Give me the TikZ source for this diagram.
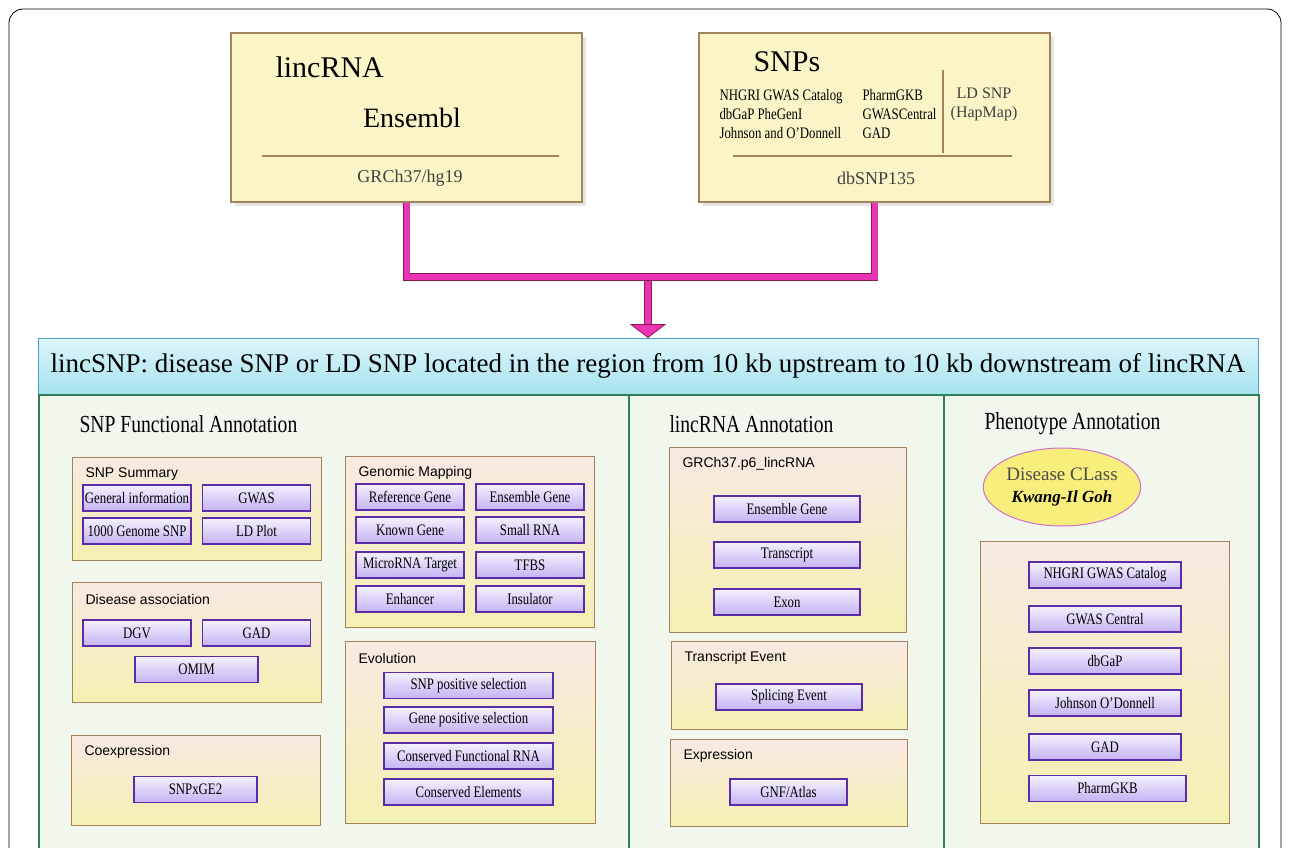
\documentclass[tikz,border=0pt]{standalone}
\usepackage{fontspec}
\setmainfont{Liberation Serif}
\setsansfont{Liberation Sans}
\newfontfamily\narrowserif{Liberation Serif}[FakeStretch=0.8]
\usepackage{tikz}
\usetikzlibrary{shapes.geometric,shadows,calc}
\usepackage{xcolor}
\definecolor{topfill}{HTML}{FBF4C6}
\definecolor{boxline}{HTML}{A3845A}
\definecolor{bantop}{HTML}{DDF6FB}
\definecolor{banbot}{HTML}{A6E2EF}
\definecolor{banline}{HTML}{4AA3C4}
\definecolor{panfill}{HTML}{F2F7EE}
\definecolor{panline}{HTML}{2F7F5A}
\definecolor{subtop}{HTML}{F8E9E2}
\definecolor{subbot}{HTML}{F4F0B2}
\definecolor{btntop}{HTML}{F5F1FD}
\definecolor{btnbot}{HTML}{C3B3F4}
\definecolor{btnline}{HTML}{5A2CA8}
\definecolor{pipefill}{HTML}{E934B6}
\definecolor{pipeline}{HTML}{8A1A4E}
\definecolor{ellfill}{HTML}{F8EE7C}
\definecolor{ellline}{HTML}{D070D0}
\newcommand{\btn}[5] {
    \node[btn,minimum width=#4] (#1) at (#2,#3) {#5};
}
\newcommand{\subbox}[6] {
    \node[subbox,anchor=north west,minimum width={#4-#2},minimum height={#5-#3}]
        (#1) at (#2,#3) {};
    \node[subtitle] (#1-title) at ([xshift=10pt,yshift=-17pt]#1.north west) {#6};
}
\newcommand{\panel}[4] {
    \node[panelbox,anchor=north west,minimum width={#3-#2},minimum height=480]
        (#1) at (#2,394) {};
    \node[paneltitle] (#1-title) at ([xshift=38pt,yshift=-30pt]#1.north west) {#4};
}

\begin{document}
\begin{tikzpicture}[
        x=1pt,y=-1pt,
        topbox/.style={draw=boxline,line width=1.3pt,fill=topfill,
            drop shadow={shadow xshift=4pt,shadow yshift=-4pt,opacity=0.2},
            minimum width=351,minimum height=169},
        banner/.style={draw=banline,line width=1pt,top color=bantop,bottom color=banbot,
            minimum width=1220,minimum height=56,font=\fontsize{27}{30}\selectfont},
        panelbox/.style={draw=panline,line width=1.5pt,fill=panfill},
        paneltitle/.style={anchor=west,font=\narrowserif\fontsize{24.5}{28}\selectfont},
        subbox/.style={draw=boxline,line width=1.3pt,top color=subtop,bottom color=subbot},
        subtitle/.style={anchor=west,font=\sffamily\fontsize{14}{16}\selectfont},
        btn/.style={draw=btnline,line width=1.6pt,top color=btntop,bottom color=btnbot,
            minimum height=26,inner sep=0pt,font=\narrowserif\fontsize{16}{18}\selectfont},
        listtext/.style={anchor=west,font=\narrowserif\fontsize{16}{19}\selectfont},
        pipe/.style={draw=pipeline,line width=0.8pt,double=pipefill,double distance=6pt},
    ]
    \useasboundingbox (0,0) rectangle (1290,848);
    \fill[white] (0,0) rectangle (1290,848);
    \draw[line width=0.8pt,rounded corners=14pt] (9,880) |- (1281,9) -- (1281,880);

    % sources
    \node[topbox] (lincbox) at (406.5,117.5) {};
    \node[anchor=west,font=\fontsize{30}{32}\selectfont] (lincname) at (272,67) {lincRNA};
    \node[font=\fontsize{28}{30}\selectfont] (ensembl) at (412,118) {Ensembl};
    \draw[boxline,line width=1.3pt] (262,156) -- (559,156);
    \node[text=black!75,font=\fontsize{18}{20}\selectfont] (hg19) at (410,178) {GRCh37/hg19};

    \node[topbox] (snpbox) at (874.5,117.5) {};
    \node[anchor=west,font=\fontsize{30}{32}\selectfont] (snpname) at (750,62) {SNPs};
    \node[listtext,align=left] (snplist) at (716,114)
        {NHGRI GWAS Catalog\\dbGaP PheGenI\\Johnson and O’Donnell};
    \node[listtext,align=left] (snplist2) at (859,114) {PharmGKB\\GWASCentral\\GAD};
    \draw[boxline,line width=1.3pt] (943,70) -- (943,153);
    \node[align=center,text=black!75,font=\fontsize{16}{19}\selectfont] (ldsnp) at (984,104)
        {LD SNP\\(HapMap)};
    \draw[boxline,line width=1.3pt] (733,156) -- (1012,156);
    \node[text=black!75,font=\fontsize{18}{20}\selectfont] (dbsnp) at (876,178) {dbSNP135};

    % merge arrow
    \node[banner] (banner) at (648,366)
        {lincSNP: disease SNP or LD SNP located in the region from 10 kb upstream to 10 kb downstream of lincRNA};
    \coordinate (bus) at (648,277);
    \draw[pipe] (bus) -- ($(banner.north)+(0,-12)$);
    \draw[pipe] (lincbox.south) |- (bus) -| (snpbox.south);
    \filldraw[fill=pipefill,draw=pipeline,line width=0.8pt]
        ($(banner.north)+(-17,-13)$) -- (banner.north) -- ($(banner.north)+(17,-13)$) -- cycle;

    % panels
    \panel{snpanno}{38}{628}{SNP Functional Annotation}
    \panel{lincanno}{628}{943}{lincRNA Annotation}
    \panel{phenoanno}{943}{1258}{Phenotype Annotation}

    % SNP functional annotation
    \subbox{summary}{72}{457}{321}{560}{SNP Summary}
    \btn{geninfo}{137}{498}{108}{General information}
    \btn{gwas}{256.5}{498}{108}{GWAS}
    \btn{kgenome}{137}{531}{108}{1000 Genome SNP}
    \btn{ldplot}{256.5}{531}{108}{LD Plot}

    \subbox{disease}{72}{582}{321}{702}{Disease association}
    \btn{dgv}{137}{633}{108}{DGV}
    \btn{gad}{256.5}{633}{108}{GAD}
    \btn{omim}{196.5}{669.5}{123}{OMIM}

    \subbox{coexpr}{71}{735}{320}{825}{Coexpression}
    \btn{snpxge}{195.5}{789.5}{123}{SNPxGE2}

    \subbox{mapping}{345}{456}{594}{627}{Genomic Mapping}
    \foreach \y/\a/\b [count=\i] in {497/Reference Gene/Ensemble Gene,
            530/Known Gene/Small RNA,565/MicroRNA Target/TFBS,599/Enhancer/Insulator} {
        \btn{mapa\i}{410}{\y}{108}{\a}
        \btn{mapb\i}{530}{\y}{108}{\b}
    }

    \subbox{evolution}{345}{641}{595}{823}{Evolution}
    \foreach \y/\t [count=\i] in {685.5/SNP positive selection,720/Gene positive selection,
            756/Conserved Functional RNA,792/Conserved Elements} {
        \btn{evo\i}{468.5}{\y}{169}{\t}
    }

    % lincRNA annotation
    \subbox{grc}{669}{447}{906}{632}{GRCh37.p6\_lincRNA}
    \foreach \y/\t [count=\i] in {509/Ensemble Gene,555/Transcript,602/Exon} {
        \btn{grc\i}{787}{\y}{146}{\t}
    }

    \subbox{tevent}{671}{641}{907}{729}{Transcript Event}
    \btn{splicing}{789}{697}{146}{Splicing Event}

    \subbox{expr}{670}{739}{907}{826}{Expression}
    \btn{gnf}{788.5}{792}{117}{GNF/Atlas}

    % phenotype annotation
    \node[ellipse,draw=ellline,line width=1pt,fill=ellfill,minimum width=152,minimum height=78,
        inner sep=0pt,align=center,font=\fontsize{19}{22}\selectfont] (dclass) at (1062,487)
        {\textcolor{black!70}{Disease CLass}\\
         \bfseries\itshape\fontsize{17}{20}\selectfont Kwang-Il Goh};
    \subbox{phenobox}{980}{541}{1229}{823}{}
    \foreach \y/\t [count=\i] in {575/NHGRI GWAS Catalog,619/GWAS Central,661/dbGaP,
            703/Johnson O’Donnell,747/GAD} {
        \btn{pheno\i}{1105}{\y}{152}{\t}
    }
    \btn{pharmgkb}{1107.5}{788.5}{157}{PharmGKB}
\end{tikzpicture}
\end{document}
